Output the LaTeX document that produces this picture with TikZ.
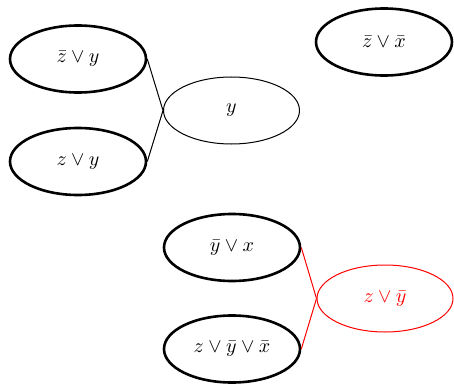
\documentclass[tikz,border=0pt]{standalone}
\usetikzlibrary{shapes.geometric}
\begin{document}
\begin{tikzpicture}[x=0.5pt,y=-0.5pt,
  clause/.style={ellipse,draw,inner sep=0pt,minimum width=68pt,minimum height=33.5pt},
  given/.style={clause,line width=1.3pt},
  derived/.style={clause,line width=0.5pt},
  link/.style={line width=0.5pt}]
\useasboundingbox (0,0) rectangle (454,385);
\node[given]   (a) at (78,59)     {$\bar z\vee y$};
\node[given]   (b) at (78,161.5)  {$z\vee y$};
\node[derived] (c) at (231.5,110.5) {$y$};
\node[given]   (d) at (384,42)    {$\bar z\vee \bar x$};
\node[given]   (e) at (232,247.5) {$\bar y\vee x$};
\node[derived,red,text=red] (f) at (385,298.5) {$z\vee \bar y$};
\node[given]   (g) at (232,349)   {$z\vee \bar y\vee \bar x$};
\draw[link] (a.east) -- (c.west);
\draw[link] (b.east) -- (c.west);
\draw[link,red] (e.east) -- (f.west);
\draw[link,red] (g.east) -- (f.west);
\end{tikzpicture}
\end{document}
